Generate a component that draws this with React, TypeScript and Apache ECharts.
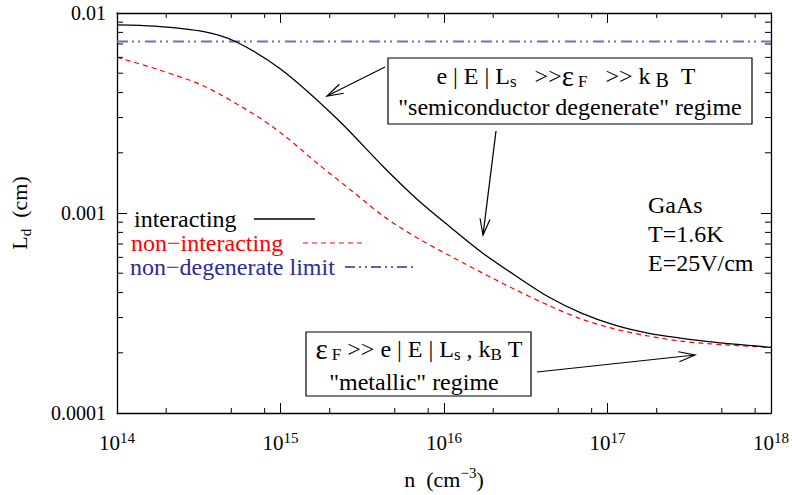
import React, { useEffect, useRef } from "react";
import * as echarts from "echarts";

const FONT = '"Liberation Serif", "Times New Roman", serif';

// ---- data ----
const nInteracting = [1e14, 1.7e14, 3.4e14, 5.3e14, 1.0e15, 2.2e15, 4.3e15, 6.9e15, 1.09e16, 1.72e16, 2.76e16, 4.37e16, 6.92e16, 1.11e17, 1.76e17, 2.78e17, 4.47e17, 1e18];
const ldInteracting = [8.73e-3, 8.6e-3, 8.07e-3, 7.2e-3, 5.25e-3, 2.98e-3, 1.69e-3, 1.165e-3, 8.51e-4, 6.31e-4, 4.84e-4, 3.8e-4, 3.16e-4, 2.75e-4, 2.51e-4, 2.37e-4, 2.26e-4, 2.13e-4];

const nNonInteracting = [1e14, 1.8e14, 3.36e14, 7.0e14, 1.06e15, 1.71e15, 2.7e15, 4.28e15, 6.87e15, 1.09e16, 1.72e16, 2.76e16, 4.37e16, 6.92e16, 1.11e17, 1.76e17, 2.78e17, 4.47e17, 1e18];
const ldNonInteracting = [6.01e-3, 5.2e-3, 4.33e-3, 3.09e-3, 2.43e-3, 1.75e-3, 1.3e-3, 9.61e-4, 7.5e-4, 6.1e-4, 5.01e-4, 4.12e-4, 3.45e-4, 2.95e-4, 2.63e-4, 2.43e-4, 2.29e-4, 2.21e-4, 2.13e-4];

const nNonDegenerate = [1e14, 1e18];
const ldNonDegenerate = [7.2e-3, 7.2e-3];

const seriesNames = ["interacting", "non\u2212interacting", "non\u2212degenerate limit"];
const seriesColors = ["#000000", "#ff0000", "#6e6ebd"];
const legendTextColors = ["#000000", "#ff0000", "#2b2b9b"];

const X_MIN = 1e14;
const X_MAX = 1e18;
const Y_MIN = 1e-4;
const Y_MAX = 1e-2;

const xTickExponents = ["14", "15", "16", "17", "18"];
const yTickLabels = ["0.0001", "0.001", "0.01"];

const xMinorTicks = [2e14, 5e14, 8e14, 2e15, 5e15, 8e15, 2e16, 5e16, 8e16, 2e17, 5e17, 8e17];
const yMinorTicks = [2e-4, 3e-4, 4e-4, 5e-4, 6e-4, 7e-4, 8e-4, 9e-4, 2e-3, 3e-3, 4e-3, 5e-3, 6e-3, 7e-3, 8e-3, 9e-3];

const infoLines = ["GaAs", "T=1.6K", "E=25V/cm"];

function zip(xs: number[], ys: number[]) {
  return xs.map((x, i) => [x, ys[i]]);
}

function arrow(x1: number, y1: number, x2: number, y2: number, len = 17, ang = 0.3) {
  const a = Math.atan2(y2 - y1, x2 - x1);
  const p1 = [x2 - len * Math.cos(a - ang), y2 - len * Math.sin(a - ang)];
  const p2 = [x2 - len * Math.cos(a + ang), y2 - len * Math.sin(a + ang)];
  return [
    { type: "line", shape: { x1, y1, x2, y2 }, style: { stroke: "#000", lineWidth: 1.2 }, z: 100 },
    { type: "polyline", shape: { points: [p1, [x2, y2], p2] }, style: { stroke: "#000", lineWidth: 1.2, fill: null }, z: 100 },
  ];
}

const richBase = {
  t: { fontSize: 24, fontFamily: FONT, lineHeight: 28, fill: "#000" },
  g: { fontSize: 29, fontFamily: FONT, lineHeight: 28, fill: "#000" },
  s: { fontSize: 17, fontFamily: FONT, lineHeight: 16, verticalAlign: "bottom", fill: "#000" },
  sb: { fontSize: 20, fontFamily: FONT, lineHeight: 14, verticalAlign: "bottom", fill: "#000" },
};

// legend layout (text left edge, sample line start/end, row y)
const legendRows = [
  { x: 134, y: 219, l1: 254, l2: 315, dash: null as any, stroke: "#000", w: 1.3 },
  { x: 131, y: 243, l1: 303, l2: 365, dash: [5, 4], stroke: "#ff0000", w: 1.2 },
  { x: 130, y: 267, l1: 345, l2: 417, dash: [10, 4, 2, 4, 2, 4], stroke: "#2b2b9b", w: 1.3 },
];

export default function App() {
  const ref = useRef<HTMLDivElement>(null);

  useEffect(() => {
    document.body.style.margin = "0";
    const chart = echarts.init(ref.current!, null, { renderer: "svg" });

    const minorTickStyle = { stroke: "#000", lineWidth: 1 };

    const xAxisBase: any = {
      type: "log",
      logBase: 10,
      min: X_MIN,
      max: X_MAX,
      splitNumber: 4,
      axisLine: { show: true, lineStyle: { color: "#000", width: 1.3 } },
      axisTick: { show: true, inside: true, length: 10, lineStyle: { color: "#000", width: 1 } },
      splitLine: { show: false },
    };
    const yAxisBase: any = {
      type: "log",
      logBase: 10,
      min: Y_MIN,
      max: Y_MAX,
      splitNumber: 2,
      axisLine: { show: true, lineStyle: { color: "#000", width: 1.3 } },
      axisTick: { show: true, inside: true, length: 10, lineStyle: { color: "#000", width: 1 } },
      splitLine: { show: false },
    };

    const legendGraphics: any[] = [];
    legendRows.forEach((r, i) => {
      legendGraphics.push({
        type: "text",
        x: r.x,
        y: r.y,
        z: 101,
        style: { text: seriesNames[i], font: "24px " + FONT, fill: legendTextColors[i], align: "left", verticalAlign: "middle" },
      });
      legendGraphics.push({
        type: "line",
        z: 101,
        shape: { x1: r.l1, y1: r.y, x2: r.l2, y2: r.y },
        style: { stroke: r.stroke, lineWidth: r.w, lineDash: r.dash },
      });
    });

    const option: any = {
      animation: false,
      backgroundColor: "#fff",
      grid: { left: 113, right: 17, top: 13, bottom: 75, containLabel: false },
      xAxis: [
        {
          ...xAxisBase,
          position: "bottom",
          name: "{n|n  (cm}{sup|\u22123}{n|)}",
          nameLocation: "middle",
          nameGap: 52,
          nameTextStyle: {
            rich: {
              n: { fontSize: 22, fontFamily: FONT, color: "#000", lineHeight: 28 },
              sup: { fontSize: 15, fontFamily: FONT, color: "#000", lineHeight: 15, verticalAlign: "top" },
            },
          },
          axisLabel: {
            show: true,
            margin: 17,
            formatter: (v: number) => {
              const i = Math.round(Math.log10(v)) - 14;
              return "{b|10}{e|" + xTickExponents[i] + "}";
            },
            rich: {
              b: { fontSize: 21, fontFamily: FONT, color: "#000", lineHeight: 26 },
              e: { fontSize: 15, fontFamily: FONT, color: "#000", lineHeight: 15, verticalAlign: "top" },
            },
          },
        },
        { ...xAxisBase, position: "top", axisLabel: { show: false } },
      ],
      yAxis: [
        {
          ...yAxisBase,
          position: "left",
          name: "{n|L}{sub|d}{n|  (cm)}",
          nameLocation: "middle",
          nameRotate: 90,
          nameGap: 84,
          nameTextStyle: {
            rich: {
              n: { fontSize: 22, fontFamily: FONT, color: "#000", lineHeight: 28 },
              sub: { fontSize: 15, fontFamily: FONT, color: "#000", lineHeight: 15, verticalAlign: "bottom" },
            },
          },
          axisLabel: {
            show: true,
            margin: 11,
            fontSize: 20,
            fontFamily: FONT,
            color: "#000",
            formatter: (v: number) => {
              const i = Math.round(Math.log10(v)) + 4;
              return yTickLabels[i];
            },
          },
        },
        { ...yAxisBase, position: "right", axisLabel: { show: false } },
      ],
      series: [
        {
          name: seriesNames[0],
          type: "line",
          data: zip(nInteracting, ldInteracting),
          symbol: "none",
          smooth: 0.3,
          lineStyle: { color: seriesColors[0], width: 1.3, type: "solid" },
          z: 5,
        },
        {
          name: seriesNames[1],
          type: "line",
          data: zip(nNonInteracting, ldNonInteracting),
          symbol: "none",
          smooth: 0.3,
          lineStyle: { color: seriesColors[1], width: 1.2, type: [5, 4] },
          z: 4,
        },
        {
          name: seriesNames[2],
          type: "line",
          data: zip(nNonDegenerate, ldNonDegenerate),
          symbol: "none",
          lineStyle: { color: seriesColors[2], width: 2, type: [11, 4, 2, 4, 2, 5] },
          z: 3,
        },
        {
          type: "custom",
          silent: true,
          clip: false,
          data: xMinorTicks.map((v) => [v, Y_MIN]),
          renderItem: (params: any, api: any) => {
            const v = api.value(0);
            const b = api.coord([v, Y_MIN]);
            const t = api.coord([v, Y_MAX]);
            return {
              type: "group",
              children: [
                { type: "line", shape: { x1: b[0], y1: b[1], x2: b[0], y2: b[1] - 5 }, style: minorTickStyle },
                { type: "line", shape: { x1: t[0], y1: t[1], x2: t[0], y2: t[1] + 5 }, style: minorTickStyle },
              ],
            };
          },
          z: 10,
        },
        {
          type: "custom",
          silent: true,
          clip: false,
          data: yMinorTicks.map((v) => [X_MIN, v]),
          renderItem: (params: any, api: any) => {
            const v = api.value(1);
            const l = api.coord([X_MIN, v]);
            const r = api.coord([X_MAX, v]);
            return {
              type: "group",
              children: [
                { type: "line", shape: { x1: l[0], y1: l[1], x2: l[0] + 6, y2: l[1] }, style: minorTickStyle },
                { type: "line", shape: { x1: r[0], y1: r[1], x2: r[0] - 6, y2: r[1] }, style: minorTickStyle },
              ],
            };
          },
          z: 10,
        },
      ],
      graphic: [
        ...legendGraphics,
        // upper annotation box
        { type: "rect", shape: { x: 388, y: 58, width: 364, height: 66 }, style: { fill: "#fff", stroke: "#000", lineWidth: 1.2 }, z: 100 },
        {
          type: "text",
          x: 566,
          y: 76,
          z: 101,
          style: {
            text: "{t|e | E | L}{s|s}{t|   >>}{g|\u03b5}{s| F}{t|   >> k}{sb| B}{t|  T}",
            rich: richBase,
            align: "center",
            verticalAlign: "middle",
          },
        },
        {
          type: "text",
          x: 570,
          y: 107,
          z: 101,
          style: {
            text: "\"semiconductor degenerate\" regime",
            font: "24px " + FONT,
            fill: "#000",
            align: "center",
            verticalAlign: "middle",
          },
        },
        ...arrow(385, 67, 327, 96),
        ...arrow(496, 131, 483, 235),
        // lower annotation box
        { type: "rect", shape: { x: 306, y: 332, width: 225, height: 64 }, style: { fill: "#fff", stroke: "#000", lineWidth: 1.2 }, z: 100 },
        {
          type: "text",
          x: 419,
          y: 349,
          z: 101,
          style: {
            text: "{g|\u03b5}{s| F}{t| >> e | E | L}{s|s}{t| , k}{s|B}{t| T}",
            rich: richBase,
            align: "center",
            verticalAlign: "middle",
          },
        },
        {
          type: "text",
          x: 414,
          y: 382,
          z: 101,
          style: {
            text: "\"metallic\" regime",
            font: "24px " + FONT,
            fill: "#000",
            align: "center",
            verticalAlign: "middle",
          },
        },
        ...arrow(537, 372, 695, 355),
        // parameters
        ...infoLines.map((s, i) => ({
          type: "text",
          x: 648,
          y: 205 + i * 29,
          z: 101,
          style: { text: s, font: "24px " + FONT, fill: "#000", align: "left", verticalAlign: "middle" },
        })),
      ],
    };

    chart.setOption(option);
    return () => chart.dispose();
  }, []);

  return <div ref={ref} style={{ width: 792, height: 495 }} />;
}
